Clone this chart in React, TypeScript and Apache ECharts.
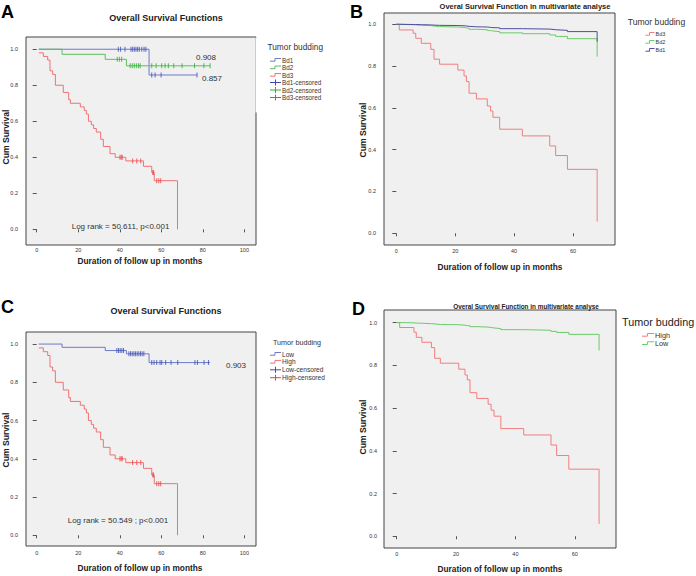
import React, { useEffect, useRef } from "react";
import * as echarts from "echarts";

const FONT = "'Liberation Sans', Arial, Helvetica, sans-serif";

// ---------- tick values ----------
const xTicksWide = [0, 20, 40, 60, 80, 100];
const xTicksNarrow = [0, 20, 40, 60];
const yTicks = [0, 0.2, 0.4, 0.6, 0.8, 1.0];

// ---------- Panel A : Kaplan-Meier, Bd1 / Bd2 / Bd3 ----------
const aNames = ["Bd1", "Bd2", "Bd3"];
const aBd1Time = [1, 54.1, 77.2];
const aBd1Surv = [1.0, 0.857, 0.857];
const aBd1CensTime = [39.3, 40.4, 42.5, 45.4, 46.2, 47.0, 47.8, 48.6, 49.4, 50.6, 51.7, 52.6, 55.4, 57.0, 59.9, 77.2];
const aBd1CensSurv = [1, 1, 1, 1, 1, 1, 1, 1, 1, 1, 1, 1, 0.857, 0.857, 0.857, 0.857];

const aBd2Time = [1, 12.2, 33.0, 43.2, 83.5];
const aBd2Surv = [1.0, 0.972, 0.944, 0.908, 0.908];
const aBd2CensTime = [38.8, 39.8, 40.9, 45.0, 46.0, 47.0, 48.0, 49.0, 49.8, 55.4, 57.5, 60.2, 61.8, 63.4, 66.0, 70.0, 76.0, 80.5, 83.5];
const aBd2CensSurv = [0.944, 0.944, 0.944, 0.908, 0.908, 0.908, 0.908, 0.908, 0.908, 0.908, 0.908, 0.908, 0.908, 0.908, 0.908, 0.908, 0.908, 0.908, 0.908];

const aBd3Time = [1, 3.2, 5.3, 6.4, 7.7, 9.0, 12.8, 15.4, 16.2, 21.0, 22.9, 23.9, 24.9, 26.3, 27.4, 28.7, 30.8, 32.1, 35.3, 37.8, 42.9, 51.4, 55.4, 56.6, 67.8];
const aBd3Surv = [0.98, 0.96, 0.94, 0.88, 0.86, 0.80, 0.76, 0.72, 0.70, 0.68, 0.66, 0.64, 0.60, 0.58, 0.56, 0.54, 0.50, 0.46, 0.42, 0.40, 0.38, 0.35, 0.315, 0.27, 0.0];
const aBd3CensTime = [40.1, 40.7, 41.2, 46.2, 48.2, 50.1, 55.9, 56.3, 57.8, 58.8, 59.7];
const aBd3CensSurv = [0.40, 0.40, 0.40, 0.38, 0.38, 0.38, 0.315, 0.315, 0.27, 0.27, 0.27];

// ---------- Panel B : multivariate (Cox) Bd3 / Bd2 / Bd1 ----------
const bNames = ["Bd3", "Bd2", "Bd1"];
const bTime = [0, 1.0, 5.7, 6.6, 8.5, 11.7, 12.8, 14.7, 20.9, 23.0, 23.8, 24.7, 27.2, 30.9, 32.0, 32.8, 35.1, 42.8, 52.1, 54.1, 58.1, 68.2];
const bBd3Surv = [1.0, 0.973, 0.957, 0.933, 0.909, 0.880, 0.833, 0.809, 0.781, 0.753, 0.726, 0.670, 0.643, 0.609, 0.585, 0.555, 0.498, 0.466, 0.418, 0.372, 0.306, 0.056];
const bBd2Surv = [1.0, 0.998, 0.997, 0.996, 0.994, 0.992, 0.989, 0.987, 0.985, 0.983, 0.981, 0.976, 0.974, 0.970, 0.968, 0.965, 0.959, 0.955, 0.949, 0.942, 0.931, 0.845];
const bBd1Surv = [1.0, 0.999, 0.999, 0.998, 0.997, 0.996, 0.995, 0.994, 0.993, 0.992, 0.990, 0.988, 0.987, 0.985, 0.984, 0.983, 0.979, 0.977, 0.974, 0.971, 0.965, 0.917];

// ---------- Panel C : Kaplan-Meier, Low / High ----------
const cNames = ["Low", "High"];
const cLowTime = [1, 12.2, 33.0, 43.2, 54.1, 83.5];
const cLowSurv = [1.0, 0.983, 0.966, 0.949, 0.903, 0.903];
const cLowCensTime = [38.6, 39.4, 40.2, 41.0, 41.8, 44.4, 45.2, 46.0, 46.8, 47.6, 48.4, 49.2, 50.0, 50.8, 51.6, 55.4, 56.5, 57.8, 59.4, 60.2, 62.1, 64.7, 67.9, 76.2, 77.4, 80.6, 82.7];
const cLowCensSurv = [0.966, 0.966, 0.966, 0.966, 0.966, 0.949, 0.949, 0.949, 0.949, 0.949, 0.949, 0.949, 0.949, 0.949, 0.949, 0.903, 0.903, 0.903, 0.903, 0.903, 0.903, 0.903, 0.903, 0.903, 0.903, 0.903, 0.903];
const cHighTime = [1, 3.2, 5.3, 6.4, 7.7, 9.0, 12.8, 15.4, 16.2, 21.0, 22.9, 23.9, 24.9, 26.3, 27.4, 28.7, 30.8, 32.1, 35.3, 37.8, 42.9, 51.4, 55.4, 56.6, 67.8];
const cHighSurv = [0.98, 0.96, 0.94, 0.88, 0.86, 0.80, 0.76, 0.72, 0.70, 0.68, 0.66, 0.64, 0.60, 0.58, 0.56, 0.54, 0.50, 0.46, 0.42, 0.40, 0.38, 0.35, 0.315, 0.27, 0.0];
const cHighCensTime = [40.1, 40.7, 41.2, 46.2, 48.2, 50.1, 55.9, 56.3, 57.8, 58.8, 59.7];
const cHighCensSurv = [0.40, 0.40, 0.40, 0.38, 0.38, 0.38, 0.315, 0.315, 0.27, 0.27, 0.27];

// ---------- Panel D : multivariate (Cox) High / Low ----------
const dNames = ["High", "Low"];
const dTime = [0, 1.0, 5.8, 6.6, 8.5, 11.7, 12.8, 14.7, 20.9, 23.0, 23.8, 24.7, 27.0, 30.8, 31.8, 32.8, 35.1, 42.8, 52.0, 53.9, 58.0, 68.2];
const dHighSurv = [1.0, 0.977, 0.955, 0.931, 0.908, 0.883, 0.833, 0.810, 0.782, 0.755, 0.732, 0.672, 0.645, 0.618, 0.590, 0.562, 0.504, 0.474, 0.427, 0.378, 0.314, 0.058];
const dLowSurv = [1.0, 0.999, 0.998, 0.997, 0.995, 0.994, 0.991, 0.990, 0.988, 0.986, 0.985, 0.981, 0.979, 0.977, 0.975, 0.972, 0.967, 0.964, 0.959, 0.954, 0.945, 0.870];

// ---------- texts ----------
const titleA = "Overall Survival Functions";
const titleB = "Overal Survival Function in multivariate analyse";
const titleC = "Overal Survival Functions";
const titleD = "Overal Survival Function in multivariate analyse";
const xTitle = "Duration of follow up in months";
const yTitle = "Cum Survival";
const legendTitle = "Tumor budding";
const noteA1 = "0.908";
const noteA2 = "0.857";
const noteA3 = "Log rank = 50.611, p<0.001";
const noteC1 = "0.903";
const noteC2 = "Log rank = 50.549 ; p<0.001";

// colours
const KM_BLUE = "#6a7bc9";
const KM_GREEN = "#5cbf5c";
const KM_RED = "#f07272";
const CENS_BLUE = "#3c4cb4";
const CENS_GREEN = "#2fae2f";
const CENS_RED = "#ee4040";
const MV_RED = "#f07e7e";
const MV_GREEN = "#6acb6a";
const MV_BLUE = "#4e4e9e";

const pairs = (xs: number[], ys: number[]) => xs.map((x, i) => [x, ys[i]]);

function stepLine(name: string, idx: number, xs: number[], ys: number[], color: string) {
  return {
    type: "line",
    name,
    xAxisIndex: idx,
    yAxisIndex: idx,
    step: "end",
    showSymbol: false,
    symbol: "none",
    silent: true,
    lineStyle: { color, width: 1 },
    data: pairs(xs, ys),
  };
}

function censor(name: string, idx: number, xs: number[], ys: number[], color: string) {
  return {
    type: "scatter",
    name,
    xAxisIndex: idx,
    yAxisIndex: idx,
    symbol: "rect",
    symbolSize: [1, 5],
    silent: true,
    itemStyle: { color },
    z: 3,
    data: pairs(xs, ys),
  };
}

function xAxis(idx: number, min: number, max: number, ticks: number[], margin: number) {
  return {
    gridIndex: idx,
    type: "value",
    min,
    max,
    axisLine: { show: false },
    splitLine: { show: false },
    axisTick: { show: true, customValues: ticks, length: 3, lineStyle: { color: "#555", width: 1 } },
    axisLabel: { customValues: ticks, fontSize: 5.5, color: "#333", margin, fontFamily: FONT },
  };
}

function yAxis(idx: number, min: number, max: number, margin: number) {
  return {
    gridIndex: idx,
    type: "value",
    min,
    max,
    axisLine: { show: false },
    splitLine: { show: false },
    axisTick: { show: true, customValues: yTicks, length: 4, lineStyle: { color: "#555", width: 1 } },
    axisLabel: {
      customValues: yTicks,
      fontSize: 5.5,
      color: "#333",
      margin,
      fontFamily: FONT,
      formatter: (v: number) => v.toFixed(1),
    },
  };
}

function txt(text: string, x: number, y: number, size: number, opts: any = {}) {
  return {
    type: "text",
    x,
    y,
    rotation: opts.rotation || 0,
    z: 10,
    style: {
      text,
      fontSize: size,
      fontFamily: FONT,
      fontWeight: opts.bold ? "bold" : "normal",
      fill: opts.color || "#222",
      align: opts.align || "left",
      verticalAlign: "middle",
    },
  };
}

function legendStep(x: number, y: number, w: number, color: string) {
  return {
    type: "polyline",
    z: 10,
    shape: {
      points: [
        [x, y + 1.2],
        [x + w * 0.45, y + 1.2],
        [x + w * 0.45, y - 1.5],
        [x + w, y - 1.5],
      ],
    },
    style: { stroke: color, fill: "none", lineWidth: 1 },
  };
}

function legendCross(x: number, y: number, w: number, color: string) {
  return [
    { type: "line", z: 10, shape: { x1: x, y1: y, x2: x + w, y2: y }, style: { stroke: color, lineWidth: 1 } },
    { type: "line", z: 10, shape: { x1: x + w / 2, y1: y - 3, x2: x + w / 2, y2: y + 3 }, style: { stroke: color, lineWidth: 1 } },
  ];
}

export default function App() {
  const ref = useRef<HTMLDivElement>(null);

  useEffect(() => {
    if (!ref.current) return;
    const chart = echarts.init(ref.current, null, { renderer: "svg", width: 696, height: 576 });

    const gridStyle = { show: true, backgroundColor: "#f0f0f0", borderColor: "#444", borderWidth: 1 };

    const graphic: any[] = [];
    // panel letters
    graphic.push(txt("A", 1, 12, 18, { bold: true, color: "#000" }));
    graphic.push(txt("B", 350, 12, 18, { bold: true, color: "#000" }));
    graphic.push(txt("C", 1, 307, 18, { bold: true, color: "#000" }));
    graphic.push(txt("D", 352, 309, 18, { bold: true, color: "#000" }));
    // titles
    graphic.push(txt(titleA, 166, 18.3, 9, { bold: true, align: "center" }));
    graphic.push(txt(titleB, 525, 6, 7.5, { bold: true, align: "center" }));
    graphic.push(txt(titleC, 166, 311, 9, { bold: true, align: "center" }));
    graphic.push(txt(titleD, 526, 306, 6.4, { bold: true, align: "center" }));
    // axis titles
    graphic.push(txt(xTitle, 140, 261, 8.3, { bold: true, align: "center" }));
    graphic.push(txt(xTitle, 500, 266.7, 8.3, { bold: true, align: "center" }));
    graphic.push(txt(xTitle, 140, 568.3, 8.3, { bold: true, align: "center" }));
    graphic.push(txt(xTitle, 500, 569.3, 8.3, { bold: true, align: "center" }));
    graphic.push(txt(yTitle, 6, 137, 8.6, { bold: true, align: "center", rotation: Math.PI / 2 }));
    graphic.push(txt(yTitle, 363, 130, 8.6, { bold: true, align: "center", rotation: Math.PI / 2 }));
    graphic.push(txt(yTitle, 6, 440, 8.6, { bold: true, align: "center", rotation: Math.PI / 2 }));
    graphic.push(txt(yTitle, 363, 427, 8.6, { bold: true, align: "center", rotation: Math.PI / 2 }));
    // annotations
    graphic.push(txt(noteA1, 196, 57.3, 8, { color: "#333" }));
    graphic.push(txt(noteA2, 202, 78.3, 8, { color: "#333" }));
    graphic.push(txt(noteA3, 71.7, 226, 8, { color: "#333" }));
    graphic.push(txt(noteC1, 226, 365, 8, { color: "#333" }));
    graphic.push(txt(noteC2, 67.7, 520, 8, { color: "#333" }));

    // legend A (white box hides part of plot border)
    graphic.push({ type: "rect", z: 9, shape: { x: 255.5, y: 37.5, width: 4, height: 75 }, style: { fill: "#fff" } });
    graphic.push(txt(legendTitle, 267.5, 47.3, 8.3, { color: "#333" }));
    const aColors = [KM_BLUE, KM_GREEN, KM_RED];
    const aCens = [CENS_BLUE, CENS_GREEN, CENS_RED];
    aNames.forEach((n, i) => {
      const y = 60 + i * 7.5;
      graphic.push(legendStep(270, y, 11, aColors[i]));
      graphic.push(txt(n, 282, y, 6.3, { color: "#333" }));
    });
    aNames.forEach((n, i) => {
      const y = 82.5 + i * 7.5;
      legendCross(270, y, 11, aCens[i]).forEach((e) => graphic.push(e));
      graphic.push(txt(n + "-censored", 282, y, 6.3, { color: "#333" }));
    });

    // legend B
    graphic.push(txt(legendTitle, 627.7, 22.3, 8.6, { color: "#333" }));
    const bColors = [MV_RED, MV_GREEN, MV_BLUE];
    bNames.forEach((n, i) => {
      const y = 34 + i * 8;
      graphic.push(legendStep(645.5, y, 9, bColors[i]));
      graphic.push(txt(n, 655.5, y, 5.5, { color: "#333" }));
    });

    // legend C
    graphic.push(txt(legendTitle, 273, 342, 7.2, { color: "#333" }));
    const cColors = [KM_BLUE, KM_RED];
    const cCens = [CENS_BLUE, CENS_RED];
    cNames.forEach((n, i) => {
      const y = 354 + i * 7.9;
      graphic.push(legendStep(270, y, 11, cColors[i]));
      graphic.push(txt(n, 282, y, 6.6, { color: "#333" }));
    });
    cNames.forEach((n, i) => {
      const y = 369.8 + i * 7.9;
      legendCross(270, y, 11, cCens[i]).forEach((e) => graphic.push(e));
      graphic.push(txt(n + "-censored", 282, y, 6.6, { color: "#333" }));
    });

    // legend D
    graphic.push(txt(legendTitle, 622, 321.7, 10.8, { color: "#222" }));
    const dColors = [MV_RED, MV_GREEN];
    dNames.forEach((n, i) => {
      const y = 335 + i * 8.3;
      graphic.push(legendStep(642, y, 12, dColors[i]));
      graphic.push(txt(n, 655, y, 7.3, { color: "#333" }));
    });

    const option: any = {
      animation: false,
      textStyle: { fontFamily: FONT },
      grid: [
        { left: 26, top: 37, width: 230, height: 208, ...gridStyle },
        { left: 384, top: 13, width: 231, height: 232, ...gridStyle },
        { left: 26, top: 332, width: 230, height: 214, ...gridStyle },
        { left: 384, top: 310, width: 232, height: 238, ...gridStyle },
      ],
      xAxis: [
        xAxis(0, -5.15, 105.6, xTicksWide, 2),
        xAxis(1, -4.18, 74.26, xTicksNarrow, 3),
        xAxis(2, -5.15, 105.6, xTicksWide, 4),
        xAxis(3, -4.28, 73.9, xTicksNarrow, 3),
      ],
      yAxis: [
        yAxis(0, -0.087, 1.068, 8),
        yAxis(1, -0.056, 1.054, 8),
        yAxis(2, -0.056, 1.063, 8),
        yAxis(3, -0.055, 1.059, 7),
      ],
      series: [
        stepLine(aNames[0], 0, aBd1Time, aBd1Surv, KM_BLUE),
        stepLine(aNames[1], 0, aBd2Time, aBd2Surv, KM_GREEN),
        stepLine(aNames[2], 0, aBd3Time, aBd3Surv, KM_RED),
        censor(aNames[0] + "-censored", 0, aBd1CensTime, aBd1CensSurv, CENS_BLUE),
        censor(aNames[1] + "-censored", 0, aBd2CensTime, aBd2CensSurv, CENS_GREEN),
        censor(aNames[2] + "-censored", 0, aBd3CensTime, aBd3CensSurv, CENS_RED),

        stepLine(bNames[0], 1, bTime, bBd3Surv, MV_RED),
        stepLine(bNames[1], 1, bTime, bBd2Surv, MV_GREEN),
        stepLine(bNames[2], 1, bTime, bBd1Surv, MV_BLUE),

        stepLine(cNames[0], 2, cLowTime, cLowSurv, KM_BLUE),
        stepLine(cNames[1], 2, cHighTime, cHighSurv, KM_RED),
        censor(cNames[0] + "-censored", 2, cLowCensTime, cLowCensSurv, CENS_BLUE),
        censor(cNames[1] + "-censored", 2, cHighCensTime, cHighCensSurv, CENS_RED),

        stepLine(dNames[0], 3, dTime, dHighSurv, MV_RED),
        stepLine(dNames[1], 3, dTime, dLowSurv, MV_GREEN),
      ],
      graphic,
    };

    chart.setOption(option);
    return () => chart.dispose();
  }, []);

  return (
    <div
      ref={ref}
      style={{ position: "fixed", left: 0, top: 0, width: 696, height: 576, background: "#fff" }}
    />
  );
}
